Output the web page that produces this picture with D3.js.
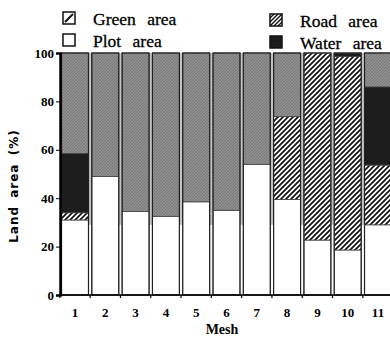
<!DOCTYPE html>
<html>
<head>
<meta charset="utf-8">
<script src="https://cdn.jsdelivr.net/npm/d3@7"></script>
<style>
  body { margin: 0; background: #fff; }
  svg { display: block; }
</style>
</head>
<body>
<div id="chart"></div>
<script>
// data (percent of land area per mesh)
const meshes = ['1', '2', '3', '4', '5', '6', '7', '8', '9', '10', '11'];
const plotArea  = [31, 49, 34.5, 32.5, 38.5, 35, 54, 39.5, 22.7, 18.6, 29];
const greenArea = [3, 0, 0, 0, 0, 0, 0, 34.2, 77.3, 80, 24.7];
const waterArea = [24.5, 0, 0, 0, 0, 0, 0, 0, 0, 1.4, 32.3];
const roadArea  = [41.5, 51, 65.5, 67.5, 61.5, 65, 46, 26.3, 0, 0, 14];
const yTicks = [0, 20, 40, 60, 80, 100];

const width = 390, height = 338;
const margin = { top: 53, right: -3, bottom: 43, left: 60 };

const svg = d3.select('#chart').append('svg')
  .attr('width', width)
  .attr('height', height);

// patterns
const defs = svg.append('defs');
const green = defs.append('pattern')
  .attr('id', 'greenHatch')
  .attr('patternUnits', 'userSpaceOnUse')
  .attr('width', 5).attr('height', 5);
green.append('rect').attr('width', 5).attr('height', 5).attr('fill', '#fff');
green.append('path')
  .attr('d', 'M-1,1 l2,-2 M0,5 l5,-5 M4,6 l2,-2')
  .attr('stroke', '#111').attr('stroke-width', 1.7);

const road = defs.append('pattern')
  .attr('id', 'roadHatch')
  .attr('patternUnits', 'userSpaceOnUse')
  .attr('width', 3).attr('height', 3);
road.append('rect').attr('width', 3).attr('height', 3).attr('fill', '#8e8e8e');
road.append('path')
  .attr('d', 'M-1,1 l2,-2 M0,3 l3,-3 M2,4 l2,-2')
  .attr('stroke', '#747474').attr('stroke-width', 0.8);

const x = d3.scaleBand()
  .domain(meshes)
  .range([margin.left, width - margin.right])
  .paddingInner(0.11)
  .paddingOuter(0.05);

const y = d3.scaleLinear()
  .domain([0, 100])
  .range([height - margin.bottom, margin.top]);

// light background showing through the gaps above the plot area
svg.append('rect')
  .attr('x', margin.left)
  .attr('y', y(100))
  .attr('width', width - margin.left - margin.right)
  .attr('height', y(29) - y(100))
  .attr('fill', '#c4c4c4');

const keys = ['plot', 'green', 'water', 'road'];
const fills = { plot: '#fff', green: 'url(#greenHatch)', water: '#1d1d1d', road: 'url(#roadHatch)' };
const rows = meshes.map((m, i) => ({
  mesh: m, plot: plotArea[i], green: greenArea[i], water: waterArea[i], road: roadArea[i]
}));
const series = d3.stack().keys(keys)(rows);

svg.append('g')
  .selectAll('g')
  .data(series)
  .join('g')
  .attr('fill', d => fills[d.key])
  .selectAll('rect')
  .data(d => d.filter(s => s[1] - s[0] > 0))
  .join('rect')
  .attr('x', d => x(d.data.mesh))
  .attr('y', d => y(d[1]))
  .attr('width', x.bandwidth())
  .attr('height', d => y(d[0]) - y(d[1]))
  .attr('stroke', '#444')
  .attr('stroke-width', 0.8);

// bar outlines
svg.append('g')
  .selectAll('rect')
  .data(meshes)
  .join('rect')
  .attr('x', d => x(d))
  .attr('y', y(100))
  .attr('width', x.bandwidth())
  .attr('height', y(0) - y(100))
  .attr('fill', 'none')
  .attr('stroke', '#222')
  .attr('stroke-width', 1.2);

// y axis
const yAxis = svg.append('g')
  .attr('transform', `translate(${margin.left},0)`)
  .call(d3.axisLeft(y).tickValues(yTicks).tickSize(4).tickPadding(2));
yAxis.select('.domain').attr('stroke-width', 2.5);
yAxis.selectAll('text')
  .attr('font-family', 'Liberation Serif, serif')
  .attr('font-weight', 'bold')
  .attr('font-size', 13)
  .attr('fill', '#000');

// x axis: ticks at bar boundaries
const xBase = svg.append('g').attr('transform', `translate(0,${y(0)})`);
xBase.append('line')
  .attr('x1', margin.left).attr('x2', width)
  .attr('stroke', '#000').attr('stroke-width', 1.5);
xBase.selectAll('line.tick')
  .data(meshes)
  .join('line')
  .attr('class', 'tick')
  .attr('x1', d => x(d) - x.step() * x.paddingInner() / 2)
  .attr('x2', d => x(d) - x.step() * x.paddingInner() / 2)
  .attr('y1', 0).attr('y2', 3)
  .attr('stroke', '#000').attr('stroke-width', 1.2);
xBase.selectAll('text')
  .data(meshes)
  .join('text')
  .attr('x', d => x(d) + x.bandwidth() / 2)
  .attr('y', 22)
  .attr('text-anchor', 'middle')
  .attr('font-family', 'Liberation Serif, serif')
  .attr('font-weight', 'bold')
  .attr('font-size', 13)
  .text(d => d);

svg.append('text')
  .attr('x', 222).attr('y', 334)
  .attr('text-anchor', 'middle')
  .attr('font-family', 'Liberation Serif, serif')
  .attr('font-weight', 'bold')
  .attr('font-size', 14)
  .text('Mesh');

svg.append('text')
  .attr('transform', `translate(18,${y(45)}) rotate(-90)`)
  .attr('text-anchor', 'middle')
  .attr('font-family', 'DejaVu Sans, sans-serif')
  .attr('font-weight', 'bold')
  .attr('font-size', 12)
  .attr('letter-spacing', 1)
  .attr('word-spacing', 3)
  .text('Land area (%)');

// legend
const legendItems = [
  { label: 'Green area', fill: 'url(#greenHatch)', x: 63, y: 12 },
  { label: 'Plot area', fill: '#fff', x: 63, y: 34 },
  { label: 'Road area', fill: 'url(#roadHatch)', x: 270, y: 14 },
  { label: 'Water area', fill: '#1d1d1d', x: 270, y: 36 }
];
const lg = svg.append('g')
  .selectAll('g')
  .data(legendItems)
  .join('g')
  .attr('transform', d => `translate(${d.x},${d.y})`);
lg.append('rect')
  .attr('width', 12).attr('height', 12)
  .attr('fill', d => d.fill === 'url(#greenHatch)' ? '#fff' : d.fill)
  .attr('stroke', '#111').attr('stroke-width', 1.5);
lg.filter(d => d.fill === 'url(#greenHatch)')
  .append('path')
  .attr('d', 'M2,10 L10,2')
  .attr('stroke', '#111').attr('stroke-width', 2);
lg.filter(d => d.fill === 'url(#roadHatch)')
  .select('rect')
  .attr('fill', '#fff');
lg.filter(d => d.fill === 'url(#roadHatch)')
  .append('path')
  .attr('d', 'M0,4 L4,0 M0,8 L8,0 M0,12 L12,0 M4,12 L12,4 M8,12 L12,8')
  .attr('stroke', '#111').attr('stroke-width', 1.4);
lg.append('text')
  .attr('x', 30).attr('y', 13)
  .attr('font-family', 'Liberation Serif, serif')
  .attr('font-size', 17.5)
  .attr('word-spacing', 7)
  .attr('stroke', '#000')
  .attr('stroke-width', 0.3)
  .text(d => d.label);
</script>
</body>
</html>
